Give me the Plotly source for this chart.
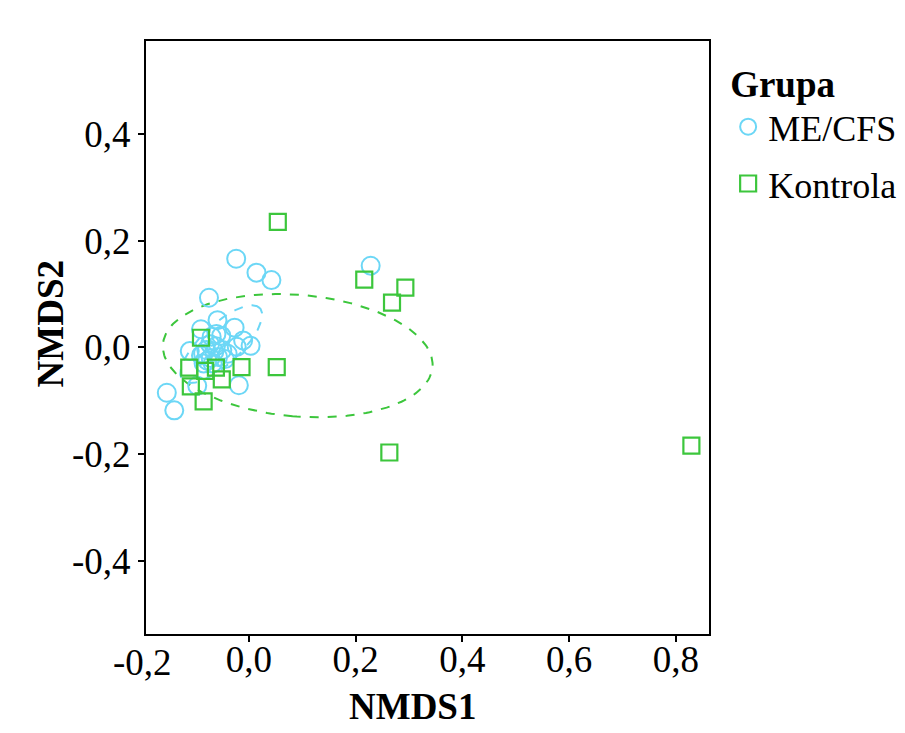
import numpy as np
import plotly.graph_objects as go

# ---- data ----
me_cfs_x = [-0.024, 0.014, 0.042, 0.228, -0.075, -0.059, -0.027, -0.090, 0.003, -0.023,
            -0.111, -0.019, -0.154, -0.140, -0.070, -0.052, -0.086, -0.097, -0.011, -0.061,
            -0.073, -0.090, -0.080, -0.072, -0.065, -0.058, -0.050, -0.045, -0.078, -0.062,
            -0.085, -0.040, -0.068]
me_cfs_y = [0.166, 0.140, 0.126, 0.153, 0.093, 0.051, 0.037, 0.034, 0.003, 0.001,
            -0.007, -0.071, -0.085, -0.118, 0.020, 0.022, -0.012, -0.072, 0.013, 0.025,
            0.006, -0.015, -0.005, -0.020, -0.008, -0.018, -0.005, -0.022, -0.025, 0.002,
            -0.030, -0.012, -0.030]

kontrola_x = [0.054, 0.216, 0.293, 0.268, -0.090, -0.112, -0.082, -0.062, -0.014, 0.052,
              -0.051, -0.109, -0.085, 0.263, 0.829]
kontrola_y = [0.235, 0.127, 0.112, 0.084, 0.018, -0.038, -0.044, -0.038, -0.037, -0.037,
              -0.060, -0.073, -0.101, -0.197, -0.184]

# ME/CFS dispersion ellipse: centre, semi-axes, angle (deg)
me_cfs_ellipse_center = (-0.052, 0.006)
me_cfs_ellipse_axes = (0.099, 0.037)
me_cfs_ellipse_angle = 43.0

x_tickvals = [0.0, 0.2, 0.4, 0.6, 0.8]
x_ticktext = ["0,0", "0,2", "0,4", "0,6", "0,8"]
y_tickvals = [-0.4, -0.2, 0.0, 0.2, 0.4]
y_ticktext = ["-0,4", "-0,2", "0,0", "0,2", "0,4"]

x_range = [-0.193, 0.862]
y_range = [-0.537, 0.574]

BLUE = "#6cd7f6"
GREEN = "#3cc63c"
FONT = "Liberation Serif"
FS = 37
LEG_FS = 36


def sd_ellipse(xs, ys, n=200):
    pts = np.vstack([xs, ys])
    mean = pts.mean(axis=1)
    cov = np.cov(pts)
    vals, vecs = np.linalg.eigh(cov)
    t = np.linspace(0, 2 * np.pi, n)
    circ = np.vstack([np.cos(t), np.sin(t)])
    ell = vecs @ (np.sqrt(vals)[:, None] * circ) + mean[:, None]
    return ell[0], ell[1]


def param_ellipse(center, axes, angle_deg, n=200):
    t = np.linspace(0, 2 * np.pi, n)
    th = np.deg2rad(angle_deg)
    a, b = axes
    x = center[0] + a * np.cos(t) * np.cos(th) - b * np.sin(t) * np.sin(th)
    y = center[1] + a * np.cos(t) * np.sin(th) + b * np.sin(t) * np.cos(th)
    return x, y


gx, gy = sd_ellipse(kontrola_x, kontrola_y)
bx, by = param_ellipse(me_cfs_ellipse_center, me_cfs_ellipse_axes, me_cfs_ellipse_angle)

fig = go.Figure()
fig.add_trace(go.Scatter(x=gx, y=gy, mode="lines", showlegend=False, hoverinfo="skip",
                         line=dict(color=GREEN, width=2, dash="dash")))
fig.add_trace(go.Scatter(x=bx, y=by, mode="lines", showlegend=False, hoverinfo="skip",
                         line=dict(color=BLUE, width=2, dash="dash")))
fig.add_trace(go.Scatter(x=me_cfs_x, y=me_cfs_y, mode="markers", name="ME/CFS",
                         legendgroup="a",
                         marker=dict(symbol="circle-open", size=18, color=BLUE,
                                     line=dict(width=2, color=BLUE))))
fig.add_trace(go.Scatter(x=kontrola_x, y=kontrola_y, mode="markers", name="Kontrola",
                         legendgroup="b",
                         marker=dict(symbol="square-open", size=16, color=GREEN,
                                     line=dict(width=2.2, color=GREEN))))

axis_common = dict(showline=True, linecolor="black", linewidth=2, mirror=True,
                   ticks="outside", ticklen=6, tickwidth=1.5, tickcolor="black",
                   showgrid=False, zeroline=False,
                   tickfont=dict(family=FONT, size=FS, color="black"))

fig.update_layout(
    width=897, height=725,
    margin=dict(l=138, r=196, t=33, b=99, autoexpand=False),
    paper_bgcolor="white", plot_bgcolor="white",
    font=dict(family=FONT, size=FS, color="black"),
    xaxis=dict(range=x_range, tickvals=x_tickvals, ticktext=x_ticktext,
               ticklabelstandoff=-14, **axis_common),
    yaxis=dict(range=y_range, tickvals=y_tickvals, ticktext=y_ticktext, **axis_common),
    legend=dict(x=1.034, xanchor="left", y=0.987, yanchor="top",
                title=dict(text="<b>Grupa</b>", font=dict(family=FONT, size=FS)),
                font=dict(family=FONT, size=LEG_FS), itemwidth=30, tracegroupgap=7,
                bgcolor="rgba(0,0,0,0)"),
    annotations=[
        dict(text="<b>NMDS1</b>", xref="paper", yref="paper", x=0.4725, y=-0.123,
             xanchor="center", yanchor="middle", showarrow=False,
             font=dict(family=FONT, size=FS)),
        dict(text="<b>NMDS2</b>", xref="paper", yref="paper", x=-0.1705, y=0.522,
             xanchor="center", yanchor="middle", showarrow=False, textangle=-90,
             font=dict(family=FONT, size=FS)),
        dict(text="-0,2", xref="paper", yref="paper", x=-0.0066, y=-0.0105,
             xanchor="center", yanchor="top", showarrow=False,
             font=dict(family=FONT, size=FS)),
    ],
)

fig.write_html("out.html")
